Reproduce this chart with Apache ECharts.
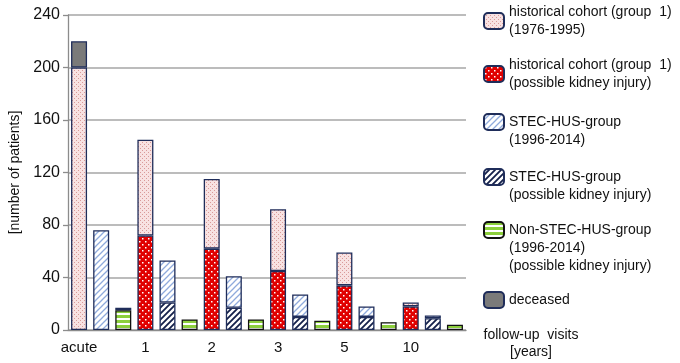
<!DOCTYPE html>
<html>
<head>
<meta charset="utf-8">
<script src="https://cdn.jsdelivr.net/npm/echarts@6/dist/echarts.min.js"></script>
<style>
  html, body { margin: 0; padding: 0; background: #fff; }
  #chart { width: 680px; height: 363px; }
</style>
</head>
<body>
<div id="chart"></div>
<script>
// follow-up time points
var visits = ['acute', '1', '2', '3', '5', '10'];

// historical cohort (group 1), 1976-1995
var histTotal = [200, 145, 115, 92, 59, 21];
var histKidney = [0, 72, 62, 45, 34, 18];

// STEC-HUS-group 1996-2014
var stecTotal = [76, 53, 41, 27, 18, 11];
var stecKidney = [0, 21, 17, 10, 10, 9];

// Non-STEC-HUS-group (possible kidney injury)
var nonStec = [15, 8, 8, 7, 6, 4];

// deceased (acute phase): historical, non-STEC
var deceasedHist = 20;
var deceasedNonStec = 2;

var yTicks = [0, 40, 80, 120, 160, 200, 240];

var names = [
	'historical cohort (group  1)\n(1976-1995)',
	'historical cohort (group  1)\n(possible kidney injury)',
	'STEC-HUS-group\n(1996-2014)',
	'STEC-HUS-group\n(possible kidney injury)',
	'Non-STEC-HUS-group\n(1996-2014)\n(possible kidney injury)',
	'deceased'
];

// 图案填充
function pattern(w, h, draw) {
	var c = document.createElement('canvas');
	c.width = w;
	c.height = h;
	draw(c.getContext('2d'));
	return { image: c, repeat: 'repeat' };
}

var pinkFill = pattern(4, 4, function (ctx) {
	ctx.fillStyle = '#f8e2e2';
	ctx.fillRect(0, 0, 4, 4);
	ctx.fillStyle = '#d99a99';
	ctx.fillRect(0, 0, 1, 1);
	ctx.fillRect(2, 2, 1, 1);
});

var redFill = pattern(6, 6, function (ctx) {
	ctx.fillStyle = '#e00000';
	ctx.fillRect(0, 0, 6, 6);
	ctx.fillStyle = '#ffffff';
	ctx.fillRect(1, 1, 1.5, 1.5);
	ctx.fillRect(4, 4, 1.5, 1.5);
});

function hatch(color, width) {
	return pattern(6, 6, function (ctx) {
		ctx.fillStyle = '#ffffff';
		ctx.fillRect(0, 0, 6, 6);
		ctx.strokeStyle = color;
		ctx.lineWidth = width;
		ctx.beginPath();
		ctx.moveTo(-1, 7); ctx.lineTo(7, -1);
		ctx.moveTo(-4, 4); ctx.lineTo(4, -4);
		ctx.moveTo(2, 10); ctx.lineTo(10, 2);
		ctx.stroke();
	});
}
var blueFill = hatch('#8faadc', 1.3);
var navyFill = hatch('#14204a', 1.8);

var greenFill = pattern(4, 5, function (ctx) {
	ctx.fillStyle = '#ffffff';
	ctx.fillRect(0, 0, 4, 5);
	ctx.fillStyle = '#8ccf3c';
	ctx.fillRect(0, 0, 4, 3);
});

// 18 个位置: 每个时间点 3 根柱子
var slots = [];
visits.forEach(function (v) { slots.push(v, ' ', '  '); });

function place(values, offset) {
	var out = slots.map(function () { return '-'; });
	values.forEach(function (v, i) {
		if (v > 0) out[i * 3 + offset] = v;
	});
	return out;
}

var histRest = histTotal.map(function (t, i) { return t - histKidney[i]; });
var stecRest = stecTotal.map(function (t, i) { return t - stecKidney[i]; });
var deceasedData = slots.map(function () { return '-'; });
deceasedData[0] = deceasedHist;
deceasedData[2] = deceasedNonStec;

var navy = '#1f2d5a';

function bar(name, data, fill, border) {
	return {
		name: name,
		type: 'bar',
		stack: 'all',
		barWidth: 16,
		data: data,
		itemStyle: { color: fill, borderColor: border, borderWidth: 1.3 }
	};
}

// 图例位置; lead = 图标对齐第一行时前面补的空行数
var legendPos = [
	{ top: 3, lead: 0 },
	{ top: 56, lead: 0 },
	{ top: 95, lead: 1 },
	{ top: 150, lead: 1 },
	{ top: 185, lead: 2 },
	{ top: 291, lead: 0 }
];

var font = 'Liberation Sans, Arial, sans-serif';

var chart = echarts.init(document.getElementById('chart'));
chart.setOption({
	animation: false,
	textStyle: { fontFamily: font },
	grid: { left: 63, right: 214, top: 15, bottom: 33 },
	legend: legendPos.map(function (p, i) {
		return {
			data: [names[i]],
			orient: 'vertical',
			left: 483,
			top: p.top,
			padding: 0,
			icon: 'roundRect',
			itemWidth: 20,
			itemHeight: 16,
			selectedMode: false,
			formatter: function (n) {
				return new Array(p.lead + 1).join(' \n') + n;
			},
			textStyle: {
				fontFamily: font,
				fontSize: 14,
				lineHeight: 18,
				color: '#111'
			}
		};
	}),
	xAxis: {
		type: 'category',
		data: slots,
		name: 'follow-up  visits\n[years]',
		nameLocation: 'end',
		nameGap: 65,
		nameTextStyle: {
			fontFamily: font,
			fontSize: 14,
			lineHeight: 17,
			color: '#111',
			align: 'center',
			verticalAlign: 'top',
			padding: [-3, 0, 0, 0]
		},
		axisLine: { lineStyle: { color: '#8c8c8c', width: 1.3 } },
		axisTick: { interval: 0, length: 5, lineStyle: { color: '#8c8c8c', width: 1.3 } },
		axisLabel: {
			interval: 0,
			fontSize: 15,
			color: '#111',
			margin: 10,
			formatter: function (v) { return v.trim(); }
		}
	},
	yAxis: {
		type: 'value',
		min: yTicks[0],
		max: yTicks[yTicks.length - 1],
		interval: 40,
		name: '[number of patients]',
		nameLocation: 'middle',
		nameGap: 46,
		nameTextStyle: { fontFamily: font, fontSize: 14, color: '#111' },
		axisLine: { show: true, lineStyle: { color: '#8c8c8c', width: 1.3 } },
		axisTick: { show: true, length: 5, lineStyle: { color: '#8c8c8c', width: 1.3 } },
		axisLabel: { fontSize: 16, color: '#111', margin: 8 },
		splitLine: { lineStyle: { color: '#a6a6a6', width: 1.5 } }
	},
	series: [
		bar(names[1], place(histKidney, 0), redFill, navy),
		bar(names[0], place(histRest, 0), pinkFill, navy),
		bar(names[3], place(stecKidney, 1), navyFill, navy),
		bar(names[2], place(stecRest, 1), blueFill, navy),
		bar(names[4], place(nonStec, 2), greenFill, '#111'),
		bar(names[5], deceasedData, '#7a7a7a', navy)
	]
});
</script>
</body>
</html>
